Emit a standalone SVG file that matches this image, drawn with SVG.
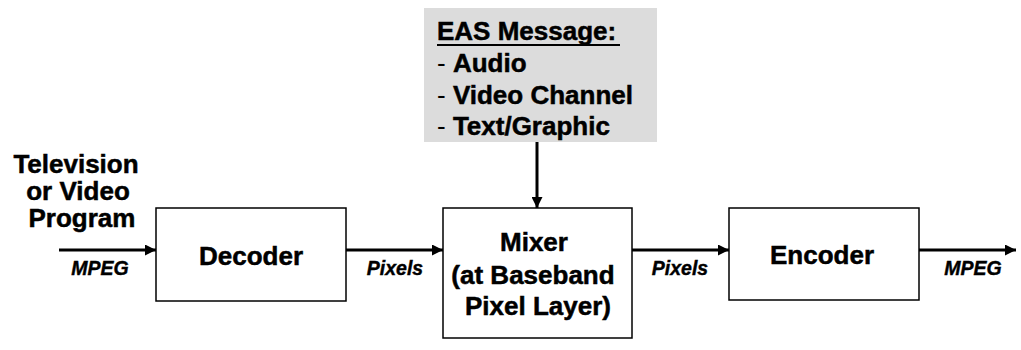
<svg xmlns="http://www.w3.org/2000/svg" width="1021" height="350" viewBox="0 0 1021 350">
  <style>
    .box { fill: #ffffff; stroke: #000000; stroke-width: 1.5; }
    .note { fill: #dcdcdc; stroke: none; }
    .t { font-family: "Liberation Sans", Arial, sans-serif; font-size: 26px; font-weight: bold; fill: #000000; stroke: #000000; stroke-width: 0.5; }
    .mid { text-anchor: middle; }
    .dash { font-weight: normal; stroke-width: 0; }
    .lbl { font-family: "Liberation Sans", Arial, sans-serif; font-size: 19.5px; font-weight: bold; font-style: italic; fill: #000000; stroke: #000000; stroke-width: 0.4; text-anchor: middle; }
    .wire { stroke: #000000; stroke-width: 3; fill: none; marker-end: url(#head); }
  </style>
  <defs>
    <marker id="head" viewBox="0 0 11 11" refX="11" refY="5.5" markerWidth="11" markerHeight="11" markerUnits="userSpaceOnUse" orient="auto">
      <path d="M0,0 L11,5.5 L0,11 Z" fill="#000000"/>
    </marker>
  </defs>

  <rect width="1021" height="350" fill="#ffffff"/>

  <!-- connectors -->
  <g id="connectors">
    <line class="wire" x1="59" y1="250" x2="156" y2="250"/>
    <line class="wire" x1="346" y1="250" x2="443" y2="250"/>
    <line class="wire" x1="632" y1="250" x2="729" y2="250"/>
    <line class="wire" x1="919" y1="250" x2="1016" y2="250"/>
    <line class="wire" x1="537" y1="142" x2="537" y2="208"/>
  </g>

  <!-- source label -->
  <g id="source">
    <text class="t mid" x="76" y="173">Television</text>
    <text class="t mid" x="78" y="200">or Video</text>
    <text class="t mid" x="82" y="227">Program</text>
  </g>

  <!-- alert message -->
  <g id="eas-message">
    <rect class="note" x="424" y="8" width="233" height="134"/>
    <text class="t" x="437" y="40">EAS Message:</text>
    <line x1="437" y1="45" x2="620" y2="45" stroke="#000000" stroke-width="2.2"/>
    <text class="t" x="437" y="72"><tspan class="dash">- </tspan>Audio</text>
    <text class="t" x="437" y="104"><tspan class="dash">- </tspan>Video Channel</text>
    <text class="t" x="437" y="135"><tspan class="dash">- </tspan>Text/Graphic</text>
  </g>

  <g id="decoder">
    <rect class="box" x="156" y="208" width="190" height="93"/>
    <text class="t mid" x="251" y="265">Decoder</text>
  </g>

  <g id="mixer">
    <rect class="box" x="443" y="208" width="189" height="130"/>
    <text class="t mid" x="534" y="251">Mixer</text>
    <text class="t mid" x="533" y="284">(at Baseband</text>
    <text class="t mid" x="538" y="315">Pixel Layer)</text>
  </g>

  <g id="encoder">
    <rect class="box" x="729" y="208" width="190" height="92"/>
    <text class="t mid" x="822" y="264">Encoder</text>
  </g>

  <!-- signal labels -->
  <g id="labels">
    <text class="lbl" x="100" y="275">MPEG</text>
    <text class="lbl" x="395" y="275">Pixels</text>
    <text class="lbl" x="680" y="275">Pixels</text>
    <text class="lbl" x="973" y="275">MPEG</text>
  </g>
</svg>
